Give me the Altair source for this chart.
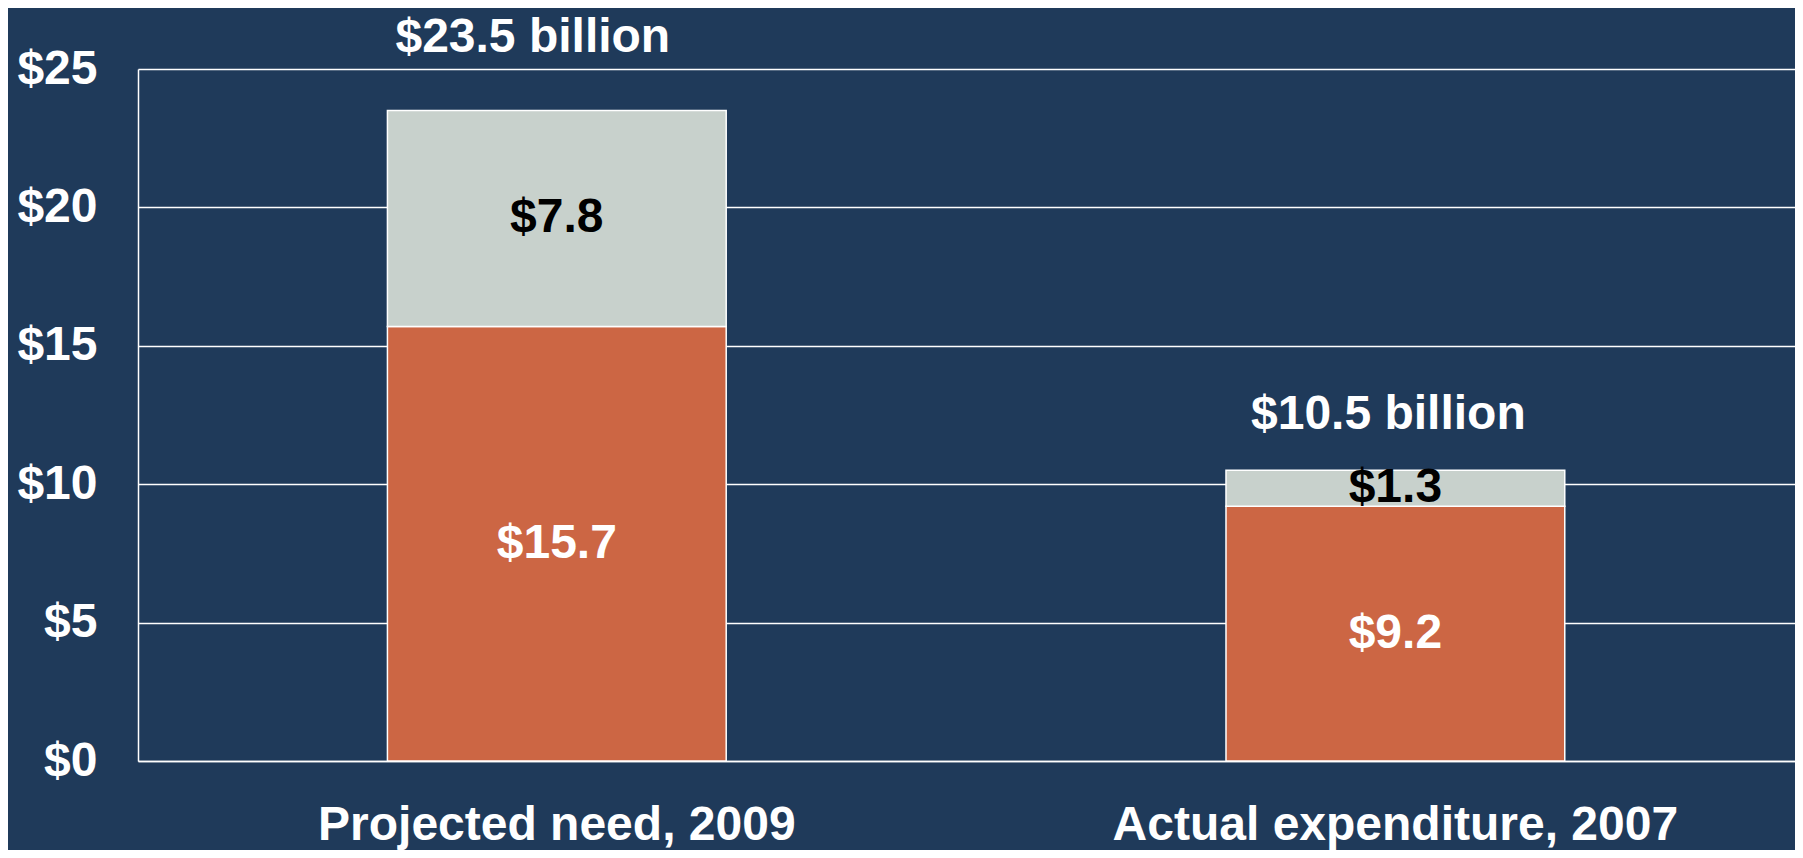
import altair as alt
import pandas as pd

categories = ["Projected need, 2009", "Actual expenditure, 2007"]
lower_values = [15.7, 9.2]
upper_values = [7.8, 1.3]
totals = [23.5, 10.5]
total_labels = ["$23.5 billion", "$10.5 billion"]
y_ticks = [0, 5, 10, 15, 20, 25]

rows = []
for i, cat in enumerate(categories):
    lo, up = lower_values[i], upper_values[i]
    rows.append({"category": cat, "segment": "lower", "order": 0, "value": lo,
                 "mid": lo / 2, "label": f"${lo}", "tcolor": "white"})
    rows.append({"category": cat, "segment": "upper", "order": 1, "value": up,
                 "mid": lo + up / 2, "label": f"${up}", "tcolor": "black"})
seg_df = pd.DataFrame(rows)
tot_df = pd.DataFrame({"category": categories, "total": totals, "label": total_labels})

FONT = "Liberation Sans"
BG = "#1F3A5A"

x_enc = alt.X(
    "category:N",
    sort=categories,
    scale=alt.Scale(paddingInner=0.596, paddingOuter=0.286, align=0.52),
    axis=alt.Axis(
        title=None, labelAngle=0, labelFont=FONT, labelFontSize=48,
        labelFontWeight="bold", labelColor="white", labelPadding=78,
        labelBaseline="alphabetic", labelLimit=1000, ticks=False, tickSize=0,
        domain=True, domainColor="white", domainWidth=1.5, grid=False,
    ),
)

y_scale = alt.Scale(domain=[0, 25], nice=False)

bars = alt.Chart(seg_df).mark_bar(stroke="white", strokeWidth=1.5).encode(
    x=x_enc,
    y=alt.Y(
        "value:Q", stack="zero", scale=y_scale,
        axis=alt.Axis(
            title=None, values=y_ticks, labelExpr="'$' + datum.value",
            labelFont=FONT, labelFontSize=48, labelFontWeight="bold",
            labelColor="white", labelPadding=41, ticks=False, tickSize=0,
            domain=True, domainColor="white", domainWidth=1.5,
            grid=True, gridColor="white", gridWidth=1.5, gridOpacity=1,
        ),
    ),
    color=alt.Color(
        "segment:N",
        scale=alt.Scale(domain=["lower", "upper"], range=["#CC6644", "#C8D1CC"]),
        legend=None,
    ),
    order=alt.Order("order:Q", sort="ascending"),
)

inner = alt.Chart(seg_df).mark_text(
    font=FONT, fontSize=48, fontWeight="bold", baseline="middle", align="center"
).encode(
    x=alt.X("category:N", sort=categories),
    y=alt.Y("mid:Q", scale=y_scale),
    text="label:N",
    color=alt.Color("tcolor:N", scale=None),
)

top1 = alt.Chart(tot_df).transform_filter(
    alt.datum.category == categories[0]
).mark_text(
    font=FONT, fontSize=48, fontWeight="bold", baseline="alphabetic",
    align="center", color="white", dx=-24, dy=-59,
).encode(
    x=alt.X("category:N", sort=categories),
    y=alt.Y("total:Q", scale=y_scale),
    text="label:N",
)

top2 = alt.Chart(tot_df).transform_filter(
    alt.datum.category == categories[1]
).mark_text(
    font=FONT, fontSize=48, fontWeight="bold", baseline="alphabetic",
    align="center", color="white", dx=-7, dy=-41,
).encode(
    x=alt.X("category:N", sort=categories),
    y=alt.Y("total:Q", scale=y_scale),
    text="label:N",
)

chart = alt.layer(bars, inner, top1, top2).properties(
    width=1657,
    height=692,
    autosize=alt.AutoSizeParams(type="none"),
    padding={"left": 130, "top": 61, "right": 0, "bottom": 89},
    background=BG,
).configure_view(strokeWidth=0)

chart.save("out.html", embed_options={"renderer": "svg", "actions": False})
